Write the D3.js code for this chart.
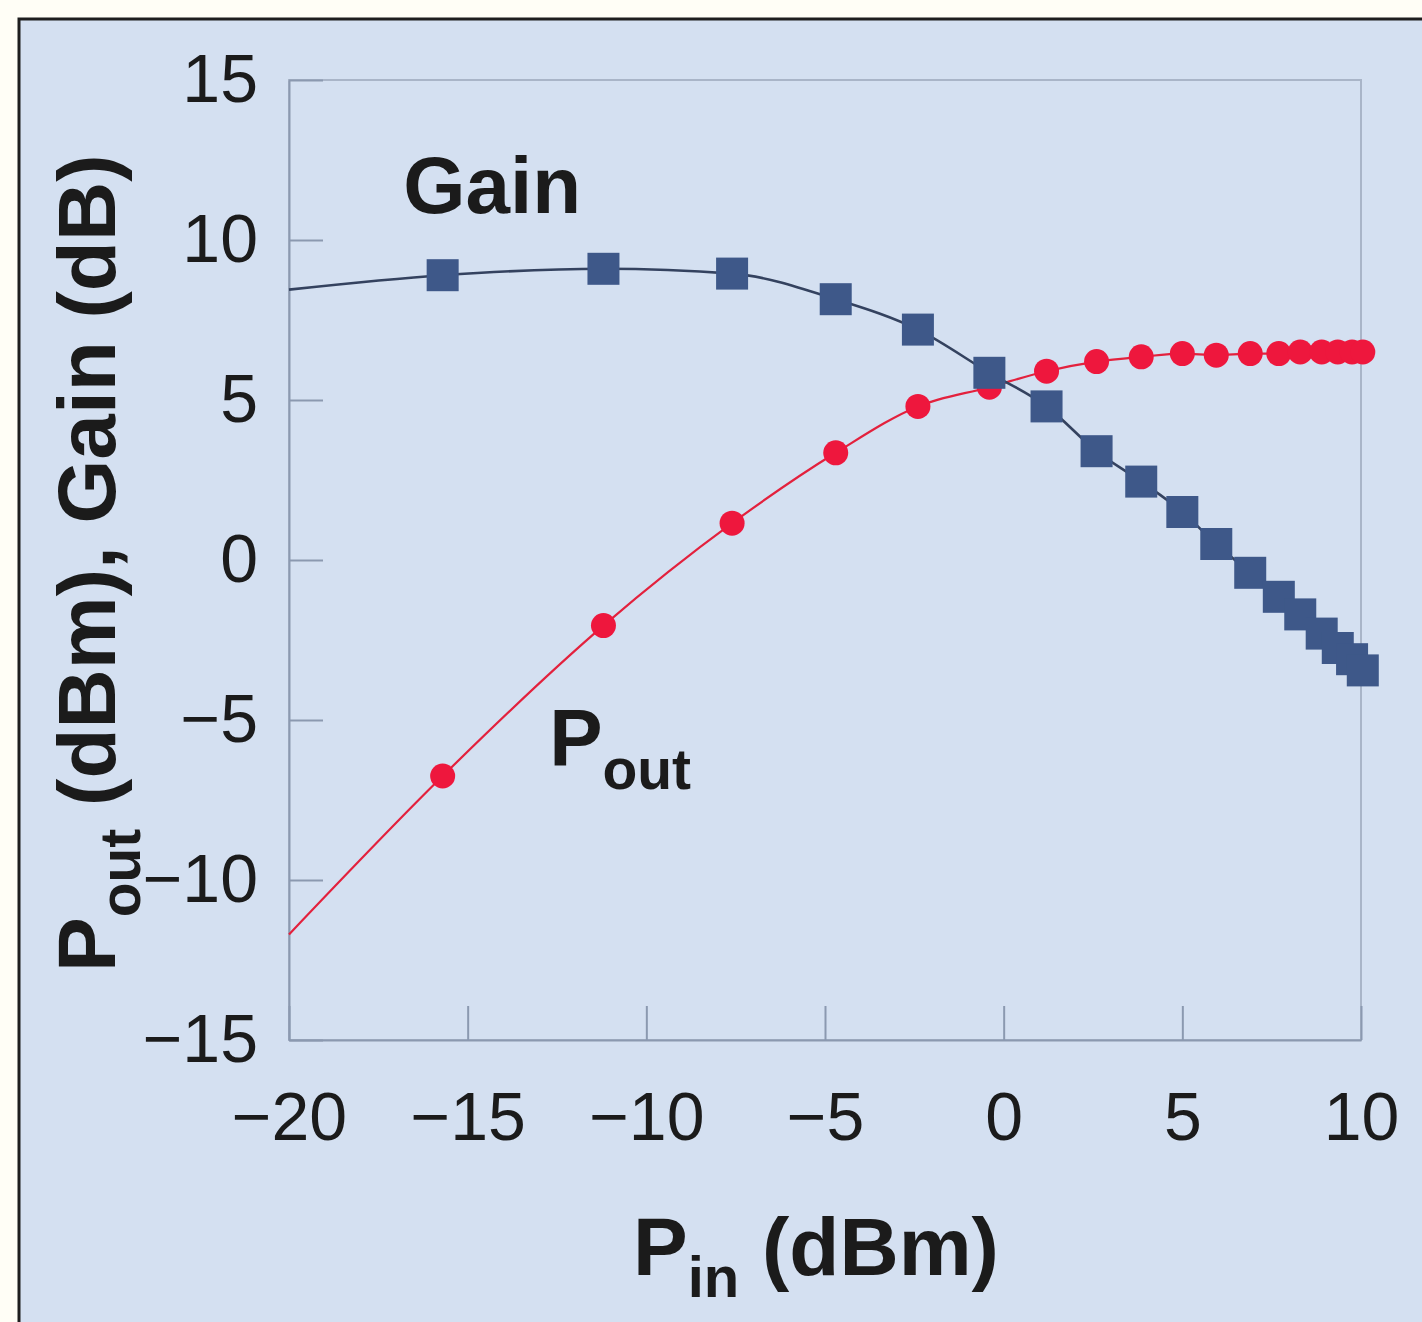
<!DOCTYPE html>
<html>
<head>
<meta charset="utf-8">
<script src="https://cdn.jsdelivr.net/npm/d3@7"></script>
<style>
  html, body { margin: 0; padding: 0; background: #fffef6; }
  svg { display: block; font-family: "Liberation Sans", Arial, Helvetica, sans-serif; }
</style>
</head>
<body>
<div id="chart"></div>
<script>
'use strict';

// input power sweep (dBm), shared by both series
var pinValues = [-15.7, -11.2, -7.6, -4.7, -2.4, -0.4, 1.2, 2.6, 3.85, 5.0, 5.95, 6.9, 7.7, 8.3, 8.9, 9.35, 9.75, 10.05];
var gainValues = [8.9, 9.1, 8.95, 8.15, 7.2, 5.85, 4.8, 3.4, 2.45, 1.5, 0.5, -0.4, -1.15, -1.7, -2.3, -2.75, -3.1, -3.45];
var poutValues = [-6.75, -2.05, 1.15, 3.35, 4.8, 5.4, 5.9, 6.2, 6.35, 6.45, 6.4, 6.45, 6.45, 6.5, 6.5, 6.5, 6.5, 6.5];

// where the curves enter the plot at the left edge (no marker there)
var curveStartPin = -20;
var gainStart = 8.45;
var poutStart = -11.7;

var xTicks = [-20, -15, -10, -5, 0, 5, 10];
var xTickLabels = ['\u221220', '\u221215', '\u221210', '\u22125', '0', '5', '10'];
var yTicks = [-15, -10, -5, 0, 5, 10, 15];
var yTickLabels = ['\u221215', '\u221210', '\u22125', '0', '5', '10', '15'];

var width = 1422;
var height = 1322;
var plot = { left: 289, top: 80, width: 1072, height: 960 };

var svg = d3.select('#chart').append('svg')
  .attr('width', width)
  .attr('height', height);

// panel
svg.append('rect')
  .attr('x', 19)
  .attr('y', 19)
  .attr('width', width + 20)
  .attr('height', height + 20)
  .attr('fill', '#d4e0f1')
  .attr('stroke', '#1e1e1e')
  .attr('stroke-width', 3);

var x = d3.scaleLinear().domain([-20, 10]).range([0, plot.width]);
var y = d3.scaleLinear().domain([-15, 15]).range([plot.height, 0]);

var g = svg.append('g')
  .attr('transform', 'translate(' + plot.left + ',' + plot.top + ')');

// plot frame
g.append('rect')
  .attr('width', plot.width)
  .attr('height', plot.height)
  .attr('fill', 'none')
  .attr('stroke', '#a9b5c8')
  .attr('stroke-width', 2);

var xAxis = d3.axisBottom(x)
  .tickValues(xTicks)
  .tickSizeInner(-34)
  .tickSizeOuter(0)
  .tickPadding(52)
  .tickFormat(function(d, i) { return xTickLabels[i]; });

var yAxis = d3.axisLeft(y)
  .tickValues(yTicks)
  .tickSizeInner(-34)
  .tickSizeOuter(0)
  .tickPadding(31)
  .tickFormat(function(d, i) { return yTickLabels[i]; });

function styleAxis(sel) {
  sel.selectAll('.domain').attr('stroke', '#8b99b0').attr('stroke-width', 2);
  sel.selectAll('.tick line').attr('stroke', '#8b99b0').attr('stroke-width', 2);
  sel.selectAll('.tick text')
    .attr('fill', '#1b1b1b')
    .style('font-size', '68px')
    .style('font-family', '"Liberation Sans", Arial, Helvetica, sans-serif');
}

g.append('g')
  .attr('transform', 'translate(0,' + plot.height + ')')
  .call(xAxis)
  .call(styleAxis);

g.append('g')
  .call(yAxis)
  .call(styleAxis);

function zip(a, b) {
  return a.map(function(v, i) { return [v, b[i]]; });
}

var gainPoints = [[curveStartPin, gainStart]].concat(zip(pinValues, gainValues));
var poutPoints = [[curveStartPin, poutStart]].concat(zip(pinValues, poutValues));

var line = d3.line()
  .curve(d3.curveMonotoneX)
  .x(function(d) { return x(d[0]); })
  .y(function(d) { return y(d[1]); });

// Pout series
g.append('path')
  .datum(poutPoints)
  .attr('d', line)
  .attr('fill', 'none')
  .attr('stroke', '#e3213d')
  .attr('stroke-width', 2.2);

g.selectAll('.pout')
  .data(poutPoints.slice(1))
  .enter().append('circle')
  .attr('class', 'pout')
  .attr('cx', function(d) { return x(d[0]); })
  .attr('cy', function(d) { return y(d[1]); })
  .attr('r', 12.5)
  .attr('fill', '#ee173d');

// Gain series
g.append('path')
  .datum(gainPoints)
  .attr('d', line)
  .attr('fill', 'none')
  .attr('stroke', '#34425f')
  .attr('stroke-width', 2.6);

var sq = 32;
g.selectAll('.gain')
  .data(gainPoints.slice(1))
  .enter().append('rect')
  .attr('class', 'gain')
  .attr('x', function(d) { return x(d[0]) - sq / 2; })
  .attr('y', function(d) { return y(d[1]) - sq / 2; })
  .attr('width', sq)
  .attr('height', sq)
  .attr('fill', '#3e5889');

// series labels
g.append('text')
  .attr('x', x(-16.8))
  .attr('y', y(10.84))
  .attr('fill', '#1b1b1b')
  .style('font-size', '80px')
  .style('font-weight', 'bold')
  .text('Gain');

var poutLabel = g.append('text')
  .attr('x', x(-12.72))
  .attr('y', y(-6.4))
  .attr('fill', '#1b1b1b')
  .style('font-weight', 'bold');
poutLabel.append('tspan').style('font-size', '80px').text('P');
poutLabel.append('tspan').style('font-size', '57px').attr('dy', 24).text('out');

// axis titles
var xTitle = svg.append('text')
  .attr('x', 633)
  .attr('y', 1275)
  .attr('fill', '#1b1b1b')
  .style('font-weight', 'bold');
xTitle.append('tspan').style('font-size', '82px').text('P');
xTitle.append('tspan').style('font-size', '58px').attr('dy', 22).text('in');
xTitle.append('tspan').style('font-size', '82px').attr('dy', -22).text('\u00a0(dBm)');

var yTitle = svg.append('text')
  .attr('transform', 'translate(115,972) rotate(-90)')
  .attr('fill', '#1b1b1b')
  .style('font-weight', 'bold');
yTitle.append('tspan').style('font-size', '82px').text('P');
yTitle.append('tspan').style('font-size', '57px').attr('dy', 25).text('out');
yTitle.append('tspan').style('font-size', '82px').attr('dy', -25).text('\u00a0(dBm), Gain (dB)');
</script>
</body>
</html>
